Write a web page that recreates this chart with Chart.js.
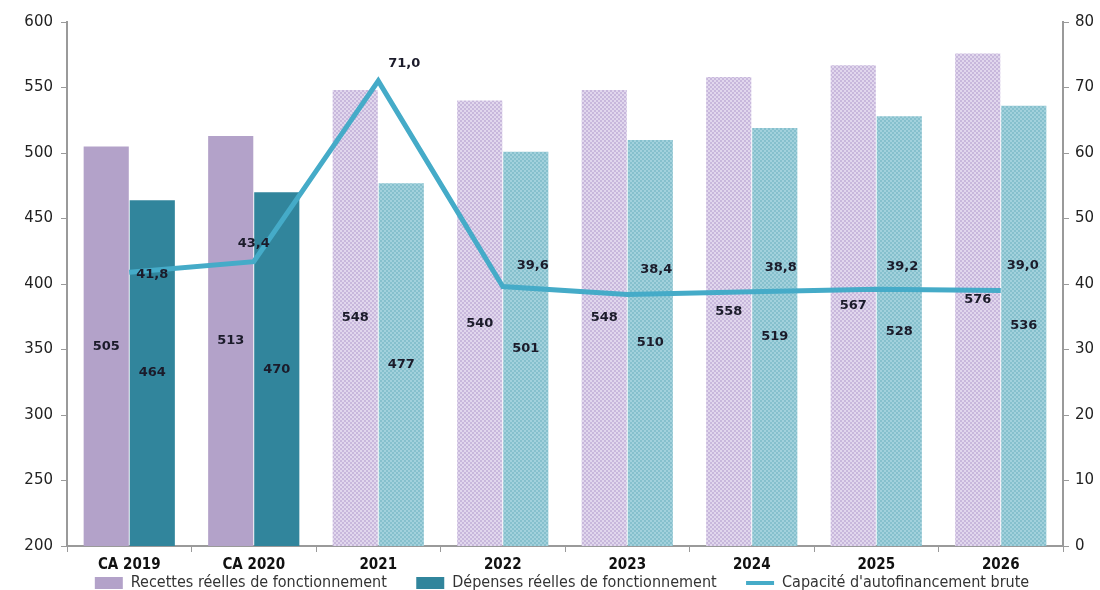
<!DOCTYPE html>
<html>
<head>
<meta charset="utf-8">
<script src="https://cdn.jsdelivr.net/npm/chart.js@4"></script>
<style>
  body { margin: 0; background: #fff; }
  #wrap { width: 1100px; height: 590px; }
</style>
</head>
<body>
<div id="wrap"><canvas id="chart"></canvas></div>
<script>
// Données
const categories = ['CA 2019', 'CA 2020', '2021', '2022', '2023', '2024', '2025', '2026'];
const recettes = [505, 513, 548, 540, 548, 558, 567, 576];
const depenses = [464, 470, 477, 501, 510, 519, 528, 536];
const caf = [41.8, 43.4, 71.0, 39.6, 38.4, 38.8, 39.2, 39.0];
const seriesNames = ['Recettes réelles de fonctionnement', 'Dépenses réelles de fonctionnement', "Capacité d'autofinancement brute"];
const leftTicks = [200, 250, 300, 350, 400, 450, 500, 550, 600];
const rightTicks = [0, 10, 20, 30, 40, 50, 60, 70, 80];

// motif quadrillé pour les années prévisionnelles
function makePattern(base, dot) {
    const c = document.createElement('canvas');
    c.width = 4; c.height = 4;
    const g = c.getContext('2d');
    g.fillStyle = base;
    g.fillRect(0, 0, 4, 4);
    g.fillStyle = dot;
    g.fillRect(0, 0, 2, 2);
    g.fillRect(2, 2, 2, 2);
    return g.createPattern(c, 'repeat');
}
const ctx = document.getElementById('chart').getContext('2d');
const purplePat = makePattern('#e1d7ed', '#c8b8dc');
const tealPat = makePattern('#a2d1dc', '#86c0cd');
const isActual = categories.map(c => c.startsWith('CA'));
const purpleFill = isActual.map(a => a ? '#b3a2c9' : purplePat);
const tealFill = isActual.map(a => a ? '#31859c' : tealPat);
const legendColors = ['#b3a2c9', '#31859c', '#45abc8'];

const fmt = v => v.toFixed(1).replace('.', ',');
// décalage des étiquettes de la courbe
const lineLabelOffsets = [[23, 2], [0, -18], [26, -17], [30, -21], [29, -25], [29, -24], [26, -23], [22, -25]];

const labelPlugin = {
    id: 'valueLabels',
    afterLayout(chart) {
        // légende décalée comme l'original
        if (chart.legend) {
            chart.legend.left += 24;
            chart.legend.top -= 3;
            chart.legend.bottom -= 3;
        }
    },
    afterDatasetsDraw(chart) {
        const c = chart.ctx;
        const bottom = chart.chartArea.bottom;
        c.save();
        c.font = 'bold 13px "DejaVu Sans", sans-serif';
        c.fillStyle = '#1b1b2a';
        c.textAlign = 'center';
        c.textBaseline = 'middle';
        [0, 1].forEach(di => {
            chart.getDatasetMeta(di).data.forEach((bar, i) => {
                const v = chart.data.datasets[di].data[i];
                c.fillText(String(v), bar.x, (bar.y + Math.min(bar.base, bottom)) / 2);
            });
        });
        chart.getDatasetMeta(2).data.forEach((pt, i) => {
            const o = lineLabelOffsets[i];
            c.fillText(fmt(caf[i]), pt.x + o[0], pt.y + o[1]);
        });
        c.restore();
    }
};

const narrow = "'Liberation Sans Narrow', 'DejaVu Sans Condensed', sans-serif";

new Chart(ctx, {
    type: 'bar',
    data: {
        labels: categories,
        datasets: [
            {
                label: seriesNames[0],
                data: recettes,
                backgroundColor: purpleFill,
                yAxisID: 'y',
                order: 1,
                categoryPercentage: 0.74,
                barPercentage: 0.98
            },
            {
                label: seriesNames[1],
                data: depenses,
                backgroundColor: tealFill,
                yAxisID: 'y',
                order: 1,
                categoryPercentage: 0.74,
                barPercentage: 0.98
            },
            {
                type: 'line',
                label: seriesNames[2],
                data: caf,
                borderColor: '#45abc8',
                backgroundColor: '#45abc8',
                borderWidth: 5,
                pointRadius: 0,
                tension: 0,
                yAxisID: 'y1',
                order: 0
            }
        ]
    },
    options: {
        responsive: true,
        maintainAspectRatio: false,
        animation: false,
        layout: { padding: { top: 22, bottom: -14 } },
        plugins: {
            tooltip: { enabled: false },
            legend: {
                position: 'bottom',
                labels: {
                    usePointStyle: true,
                    boxHeight: 12,
                    pointStyleWidth: 28,
                    padding: 2,
                    color: '#333',
                    font: { family: narrow, size: 16 },
                    generateLabels: () => seriesNames.map((name, i) => ({
                        text: i < 2 ? name + '\u00a0\u00a0\u00a0\u00a0\u00a0\u00a0' : name,
                        fillStyle: legendColors[i],
                        strokeStyle: legendColors[i],
                        lineWidth: i === 2 ? 4 : 0,
                        pointStyle: i === 2 ? 'line' : 'rect',
                        datasetIndex: i,
                        hidden: false,
                        fontColor: '#333'
                    }))
                }
            }
        },
        scales: {
            x: {
                grid: { display: true, drawOnChartArea: false, tickLength: 6, color: '#9a9a9a', offset: true },
                border: { color: '#9a9a9a', width: 2 },
                ticks: { color: '#111', font: { family: narrow, size: 15, weight: 'bold' }, padding: 4 },
                afterFit: s => { s.height = 30; }
            },
            y: {
                position: 'left',
                min: 200,
                max: 600,
                afterBuildTicks: s => { s.ticks = leftTicks.map(v => ({ value: v })); },
                grid: { display: true, drawOnChartArea: false, tickLength: 6, color: '#9a9a9a' },
                border: { color: '#9a9a9a', width: 2 },
                ticks: { color: '#222', font: { family: '"DejaVu Sans", sans-serif', size: 15 }, padding: 8 },
                afterFit: s => { s.width = 67; }
            },
            y1: {
                position: 'right',
                min: 0,
                max: 80,
                afterBuildTicks: s => { s.ticks = rightTicks.map(v => ({ value: v })); },
                grid: { display: true, drawOnChartArea: false, tickLength: 6, color: '#9a9a9a' },
                border: { color: '#9a9a9a', width: 2 },
                ticks: { color: '#222', font: { family: '"DejaVu Sans", sans-serif', size: 15 }, padding: 6 },
                afterFit: s => { s.width = 37; }
            }
        }
    },
    plugins: [labelPlugin]
});
</script>
</body>
</html>
